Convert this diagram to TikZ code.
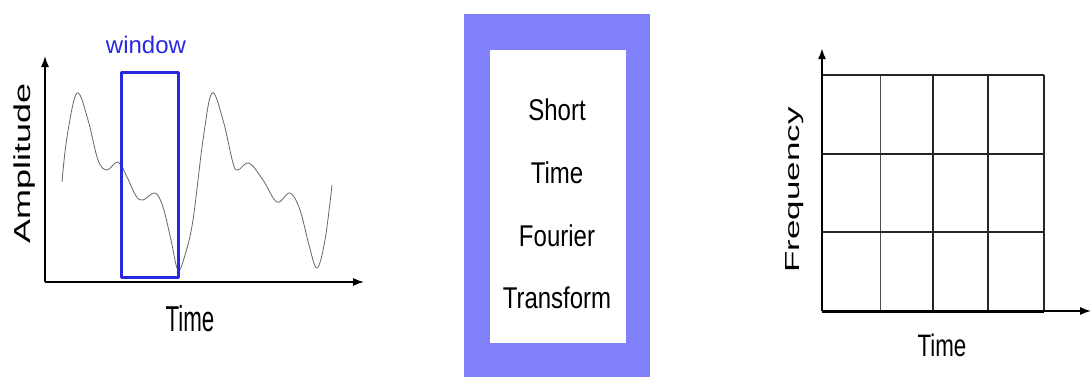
\documentclass[tikz,border=0pt]{standalone}
\usepackage{fontspec}
\setmainfont{Liberation Sans}
\usetikzlibrary{arrows.meta}

\definecolor{winblue}{RGB}{40,40,225}
\definecolor{stftframe}{RGB}{128,128,250}

\tikzset{
    axis/.style={line width=1.4pt, -{Latex[length=11pt,width=8pt]}},
    label/.style={inner sep=0pt, font=\fontsize{#1}{#1}\selectfont},
    gridline/.style={line width=1.3pt, black!85}
}

\begin{document}
\begin{tikzpicture}[x=1pt, y=-1pt, line join=round]
    \useasboundingbox (0,0) rectangle (1092,380);

    % left panel: signal with a window on it
    \coordinate (O1) at (45,282);
    \coordinate (Y1) at (45,56);
    \coordinate (X1) at (364,282);
    \draw[axis] (O1) -- (Y1);
    \draw[axis] (O1) -- (X1);

    % the signal
    \draw[black!60, line width=0.8pt] plot[smooth, tension=0.6] coordinates {
        (62,182) (67,137) (77,93) (88,120) (98,160) (107,170) (118,162)
        (127,177) (136,196) (143,200) (155,193) (163,207) (171,240)
        (178,270) (185,255) (193,220) (203,140) (212,93) (223,120)
        (233,163) (238,170) (249,163) (263,180) (277,202) (290,193)
        (300,210) (309,245) (317,268) (325,240) (332,185)};

    % window
    \draw[winblue, line width=3pt] (121,72) rectangle (178,277);
    \node[label=24, text=winblue] (window) at (146,45) {window};

    \node[label=36, xscale=0.64, rotate=90] (amp) at (25,163) {Amplitude};
    \node[label=36, xscale=0.62] (time1) at (190,319) {Time};

    % middle panel: the transform box
    \fill[stftframe] (464,14) rectangle (650,377);
    \fill[white] (490,50) rectangle (626,343);
    \node[label=30, xscale=0.8] (short) at (557,110) {Short};
    \node[label=30, xscale=0.8] (time2) at (557,173) {Time};
    \node[label=30, xscale=0.8] (fourier) at (557,236) {Fourier};
    \node[label=30, xscale=0.8] (transform) at (557,298) {Transform};

    % right panel: time-frequency tiling
    \coordinate (O3) at (822,311);
    \coordinate (Y3) at (822,48);
    \coordinate (X3) at (1091,311);
    \foreach \x in {933,988,1044}
        \draw[gridline] (\x,75) -- (\x,311);
    \draw[line width=0.8pt, black!70] (880,75) -- (880,311);
    \foreach \y in {75,154,232}
        \draw[gridline] (822,\y) -- (1044,\y);
    \draw[axis] (O3) -- (X3);
    \draw[line width=3pt] (O3) -- (1044,311);
    \draw[axis, line width=2.6pt] (O3) -- (Y3);

    \node[label=35, xscale=0.58, rotate=90] (freq) at (795,190) {Frequency};
    \node[label=31, xscale=0.72] (time3) at (942,345) {Time};
\end{tikzpicture}
\end{document}
